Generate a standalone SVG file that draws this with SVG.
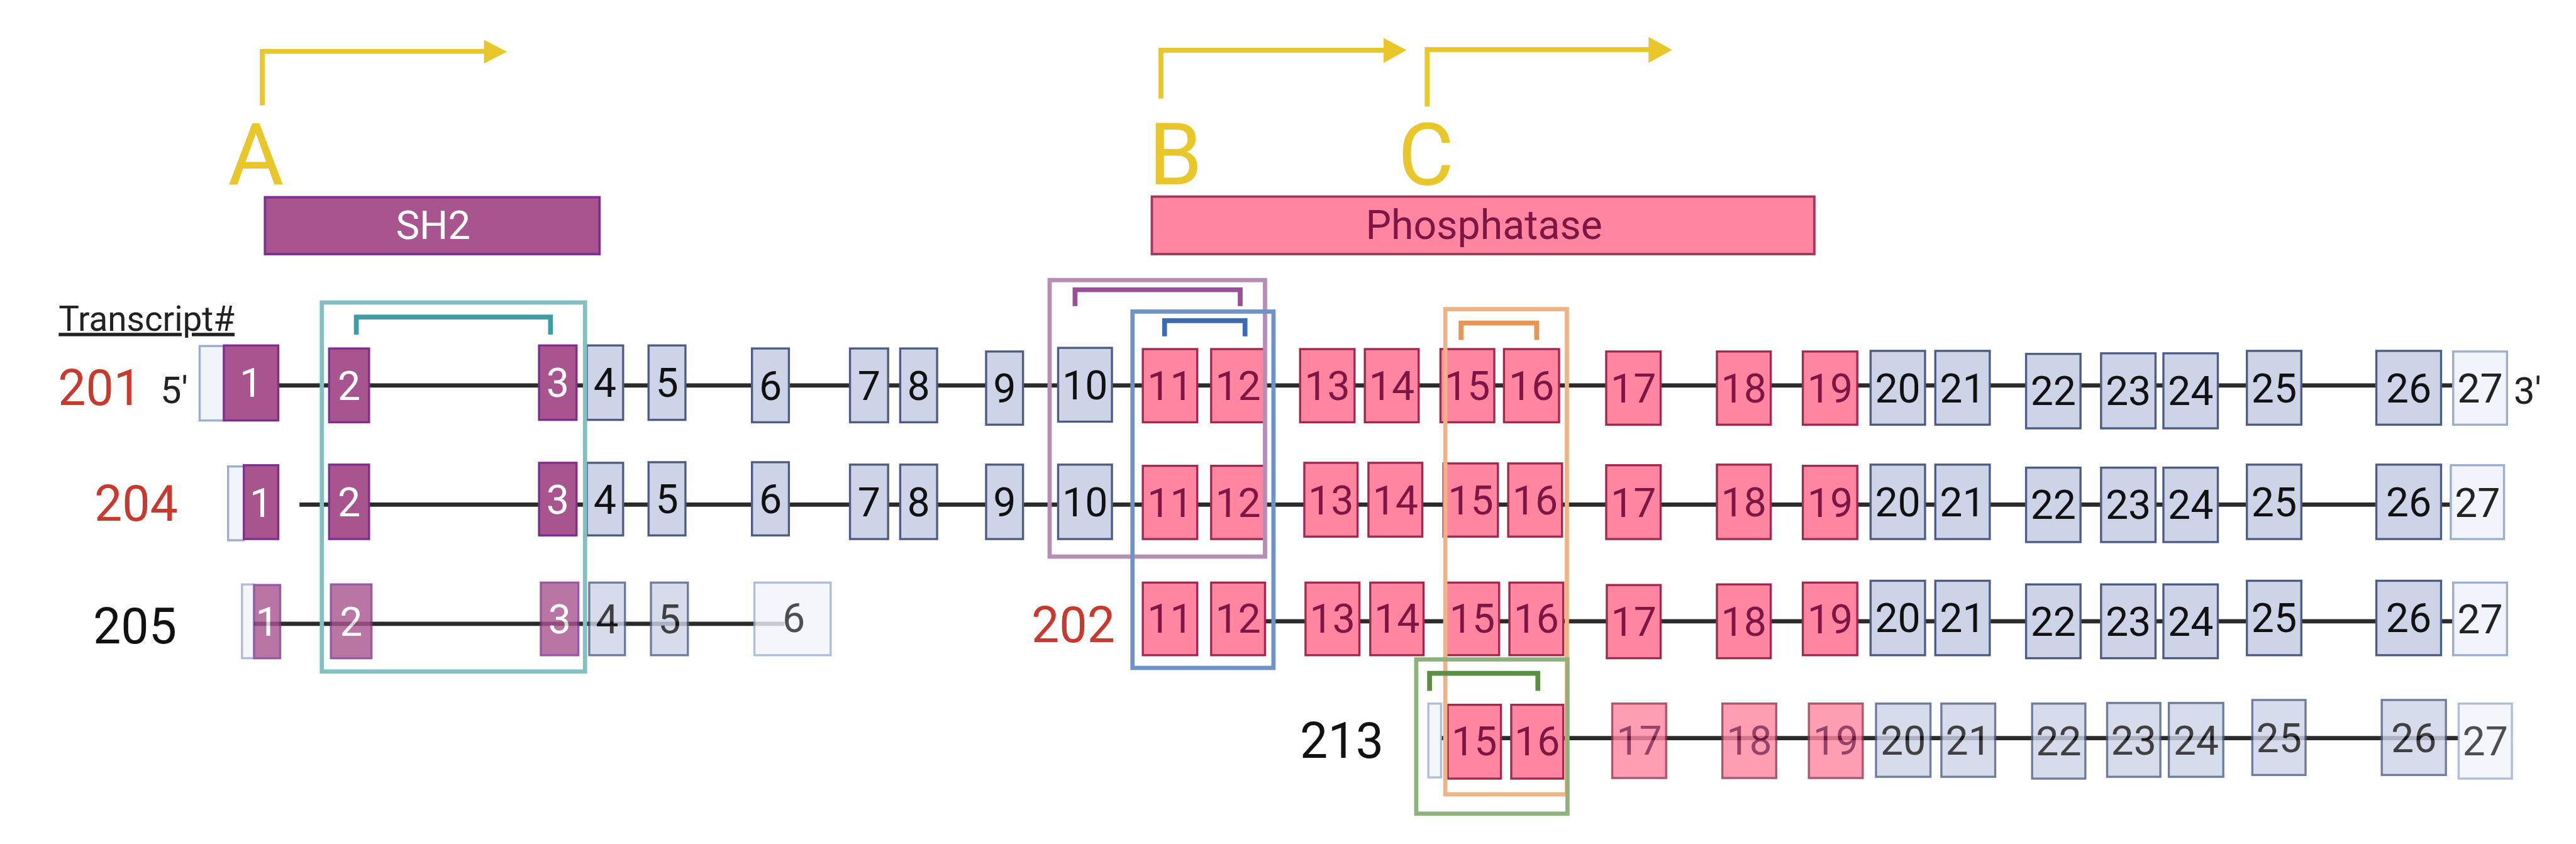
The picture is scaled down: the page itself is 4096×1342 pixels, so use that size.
<svg xmlns="http://www.w3.org/2000/svg" width="4096" height="1342" viewBox="0 0 4096 1342">
<style>
text{font-family:Roboto,"Liberation Sans",sans-serif}
.n{font-size:67px;text-anchor:middle}
.ex rect{stroke-width:3.5}
.p rect{fill:#a8558f;stroke:#7e2f8e}.p text{fill:#fff}
.k rect{fill:#ff85a1;stroke:#9e2a4d}.k text{fill:#7d1545}
.g rect{fill:#cdd4e8;stroke:#4e5c84}.g text{fill:#111}
.u rect{fill:#f1f4fb;stroke:#9dadd2}.u text{fill:#222}
.tr{opacity:0.8}
.ln{stroke:#2b2b2b;stroke-width:7;fill:none}
.fr{fill:none;stroke-width:7}
.br{fill:none;stroke-width:8}
.yl{fill:none;stroke:#e9c62a;stroke-width:8}
.lab{font-size:82px;text-anchor:middle}
.red{fill:#c93a2e}
</style>
<rect width="4096" height="1342" fill="#fff"/>
<g transform="scale(0.96195)">
<!-- promoters -->
<g id="promA"><path class="yl" d="M433.5,174V85H802"/><polygon points="800,66 838,85.5 800,105" fill="#e9c62a"/><text x="423" y="306" font-size="142" fill="#e9c62a" text-anchor="middle">A</text></g>
<g id="promB"><path class="yl" d="M1919,163V83H2289"/><polygon points="2287,63 2325,83 2287,104" fill="#e9c62a"/><text x="1943" y="305" font-size="142" fill="#e9c62a" text-anchor="middle">B</text></g>
<g id="promC"><path class="yl" d="M2359,176V82H2727"/><polygon points="2725,61 2764,82.5 2725,104" fill="#e9c62a"/><text x="2357" y="306" font-size="142" fill="#e9c62a" text-anchor="middle">C</text></g>
<!-- domains -->
<g id="dom-sh2"><rect x="438" y="326" width="553" height="94" fill="#a8558f" stroke="#7e2f8e" stroke-width="4"/><text x="716" y="395" font-size="66" fill="#fff" text-anchor="middle">SH2</text></g>
<g id="dom-phos"><rect x="1904" y="325" width="1095" height="95" fill="#ff85a1" stroke="#a23a5c" stroke-width="4"/><text x="2453" y="395" font-size="67" fill="#7d1545" text-anchor="middle">Phosphatase</text></g>
<g id="hdr"><text x="97" y="547" font-size="57" fill="#222" text-decoration="underline">Transcript#</text></g>
<!-- connectors (introns) -->
<g id="connectors">
<line class="ln" x1="459" y1="637" x2="4056" y2="637"/>
<line class="ln" x1="495" y1="834" x2="4051" y2="834"/>
<line class="ln" x1="420" y1="1031" x2="1297" y2="1031"/>
<line class="ln" x1="2091" y1="1027" x2="4064" y2="1027"/>
<line class="ln" x1="2382" y1="1220" x2="4064" y2="1220"/>
</g>
<!-- row labels -->
<g id="lbl201"><text class="lab red" x="165" y="669">201</text><text x="265" y="666" font-size="62" fill="#222">5'</text><text x="4155" y="667" font-size="62" fill="#222">3'</text></g>
<g id="lbl204"><text class="lab red" x="225" y="861">204</text></g>
<g id="lbl205"><text class="lab" x="223" y="1063" fill="#111">205</text></g>
<g id="lbl202"><text class="lab red" x="1774" y="1061">202</text></g>
<g id="lbl213"><text class="lab" x="2218" y="1253" fill="#111">213</text></g>
<!-- row 201 -->
<g id="t201">
<g id="e201-u" class="ex u"><rect x="330" y="572" width="40" height="123"/></g>
<g id="e201-1" class="ex p"><rect x="370" y="571" width="90" height="124"/><text class="n" x="415" y="656">1</text></g>
<g id="e201-2" class="ex p"><rect x="544" y="576" width="66" height="122"/><text class="n" x="577" y="661">2</text></g>
<g id="e201-3" class="ex p"><rect x="891" y="571" width="62" height="123"/><text class="n" x="922" y="656">3</text></g>
<g id="e201-4" class="ex g"><rect x="970" y="571" width="60" height="123"/><text class="n" x="1000" y="656">4</text></g>
<g id="e201-5" class="ex g"><rect x="1072" y="571" width="61" height="123"/><text class="n" x="1102.5" y="656">5</text></g>
<g id="e201-6" class="ex g"><rect x="1243" y="576" width="61" height="122"/><text class="n" x="1273.5" y="661">6</text></g>
<g id="e201-7" class="ex g"><rect x="1405" y="576" width="63" height="122"/><text class="n" x="1436.5" y="661">7</text></g>
<g id="e201-8" class="ex g"><rect x="1488" y="576" width="61" height="122"/><text class="n" x="1518.5" y="661">8</text></g>
<g id="e201-9" class="ex g"><rect x="1630" y="581" width="61" height="121"/><text class="n" x="1660.5" y="665">9</text></g>
<g id="e201-10" class="ex g"><rect x="1749" y="575" width="89" height="122"/><text class="n" x="1793.5" y="660">10</text></g>
<g id="e201-11" class="ex k"><rect x="1889" y="577" width="90" height="121"/><text class="n" x="1934" y="661">11</text></g>
<g id="e201-12" class="ex k"><rect x="2002" y="577" width="89" height="121"/><text class="n" x="2046.5" y="661">12</text></g>
<g id="e201-13" class="ex k"><rect x="2149" y="577" width="90" height="121"/><text class="n" x="2194" y="661">13</text></g>
<g id="e201-14" class="ex k"><rect x="2256" y="577" width="89" height="121"/><text class="n" x="2300.5" y="661">14</text></g>
<g id="e201-15" class="ex k"><rect x="2381" y="577" width="89" height="121"/><text class="n" x="2425.5" y="661">15</text></g>
<g id="e201-16" class="ex k"><rect x="2486" y="577" width="91" height="121"/><text class="n" x="2531.5" y="661">16</text></g>
<g id="e201-17" class="ex k"><rect x="2655" y="581" width="90" height="121"/><text class="n" x="2700" y="665">17</text></g>
<g id="e201-18" class="ex k"><rect x="2838" y="581" width="89" height="121"/><text class="n" x="2882.5" y="665">18</text></g>
<g id="e201-19" class="ex k"><rect x="2980" y="581" width="90" height="121"/><text class="n" x="3025" y="665">19</text></g>
<g id="e201-20" class="ex g"><rect x="3092" y="580" width="90" height="122"/><text class="n" x="3137" y="665">20</text></g>
<g id="e201-21" class="ex g"><rect x="3199" y="580" width="90" height="122"/><text class="n" x="3244" y="665">21</text></g>
<g id="e201-22" class="ex g"><rect x="3349" y="585" width="90" height="123"/><text class="n" x="3394" y="669">22</text></g>
<g id="e201-23" class="ex g"><rect x="3473" y="584" width="90" height="124"/><text class="n" x="3518" y="669">23</text></g>
<g id="e201-24" class="ex g"><rect x="3576" y="584" width="90" height="124"/><text class="n" x="3621" y="669">24</text></g>
<g id="e201-25" class="ex g"><rect x="3714" y="580" width="90" height="122"/><text class="n" x="3759" y="665">25</text></g>
<g id="e201-26" class="ex g"><rect x="3928" y="580" width="107" height="122"/><text class="n" x="3981.5" y="665">26</text></g>
<g id="e201-27" class="ex u"><rect x="4055" y="581" width="89" height="121"/><text class="n" x="4099.5" y="665">27</text></g>
</g>
<!-- row 204 -->
<g id="t204">
<g id="e204-u" class="ex u"><rect x="377" y="771" width="26" height="122"/></g>
<g id="e204-1" class="ex p"><rect x="403" y="769" width="57" height="122"/><text class="n" x="431.5" y="854">1</text></g>
<g id="e204-2" class="ex p"><rect x="544" y="768" width="66" height="123"/><text class="n" x="577" y="853">2</text></g>
<g id="e204-3" class="ex p"><rect x="891" y="765" width="62" height="120"/><text class="n" x="922" y="849">3</text></g>
<g id="e204-4" class="ex g"><rect x="970" y="765" width="60" height="120"/><text class="n" x="1000" y="849">4</text></g>
<g id="e204-5" class="ex g"><rect x="1072" y="764" width="61" height="121"/><text class="n" x="1102.5" y="848">5</text></g>
<g id="e204-6" class="ex g"><rect x="1243" y="764" width="61" height="121"/><text class="n" x="1273.5" y="848">6</text></g>
<g id="e204-7" class="ex g"><rect x="1405" y="768" width="63" height="123"/><text class="n" x="1436.5" y="853">7</text></g>
<g id="e204-8" class="ex g"><rect x="1488" y="768" width="61" height="123"/><text class="n" x="1518.5" y="853">8</text></g>
<g id="e204-9" class="ex g"><rect x="1630" y="768" width="61" height="123"/><text class="n" x="1660.5" y="853">9</text></g>
<g id="e204-10" class="ex g"><rect x="1749" y="768" width="89" height="123"/><text class="n" x="1793.5" y="853">10</text></g>
<g id="e204-11" class="ex k"><rect x="1889" y="770" width="90" height="121"/><text class="n" x="1934" y="854">11</text></g>
<g id="e204-12" class="ex k"><rect x="2002" y="770" width="89" height="121"/><text class="n" x="2046.5" y="854">12</text></g>
<g id="e204-13" class="ex k"><rect x="2156" y="765" width="88" height="122"/><text class="n" x="2200" y="850">13</text></g>
<g id="e204-14" class="ex k"><rect x="2262" y="765" width="89" height="122"/><text class="n" x="2306.5" y="850">14</text></g>
<g id="e204-15" class="ex k"><rect x="2386" y="766" width="90" height="121"/><text class="n" x="2431" y="850">15</text></g>
<g id="e204-16" class="ex k"><rect x="2493" y="766" width="89" height="121"/><text class="n" x="2537.5" y="850">16</text></g>
<g id="e204-17" class="ex k"><rect x="2655" y="769" width="90" height="122"/><text class="n" x="2700" y="854">17</text></g>
<g id="e204-18" class="ex k"><rect x="2838" y="768" width="89" height="123"/><text class="n" x="2882.5" y="853">18</text></g>
<g id="e204-19" class="ex k"><rect x="2980" y="770" width="90" height="121"/><text class="n" x="3025" y="854">19</text></g>
<g id="e204-20" class="ex g"><rect x="3092" y="768" width="90" height="123"/><text class="n" x="3137" y="853">20</text></g>
<g id="e204-21" class="ex g"><rect x="3199" y="768" width="90" height="123"/><text class="n" x="3244" y="853">21</text></g>
<g id="e204-22" class="ex g"><rect x="3349" y="773" width="90" height="123"/><text class="n" x="3394" y="858">22</text></g>
<g id="e204-23" class="ex g"><rect x="3473" y="773" width="90" height="123"/><text class="n" x="3518" y="858">23</text></g>
<g id="e204-24" class="ex g"><rect x="3576" y="773" width="90" height="123"/><text class="n" x="3621" y="858">24</text></g>
<g id="e204-25" class="ex g"><rect x="3714" y="768" width="90" height="123"/><text class="n" x="3759" y="853">25</text></g>
<g id="e204-26" class="ex g"><rect x="3928" y="768" width="107" height="123"/><text class="n" x="3981.5" y="853">26</text></g>
<g id="e204-27" class="ex u"><rect x="4051" y="769" width="88" height="122"/><text class="n" x="4095" y="854">27</text></g>
</g>
<!-- row 205 -->
<g id="t205" class="tr">
<g id="e205-u" class="ex u"><rect x="400" y="966" width="20" height="122"/></g>
<g id="e205-1" class="ex p"><rect x="420" y="967" width="43" height="121"/><text class="n" x="441.5" y="1051">1</text></g>
<g id="e205-2" class="ex p"><rect x="547" y="966" width="67" height="122"/><text class="n" x="580.5" y="1051">2</text></g>
<g id="e205-3" class="ex p"><rect x="894" y="963" width="62" height="120"/><text class="n" x="925" y="1047">3</text></g>
<g id="e205-4" class="ex g"><rect x="974" y="963" width="59" height="120"/><text class="n" x="1003.5" y="1047">4</text></g>
<g id="e205-5" class="ex g"><rect x="1076" y="963" width="61" height="120"/><text class="n" x="1106.5" y="1047">5</text></g>
<g id="e205-6" class="ex u"><rect x="1247" y="963" width="126" height="120"/><text class="n" x="1312" y="1045">6</text></g>
</g>
<!-- row 202 -->
<g id="t202">
<g id="e202-11" class="ex k"><rect x="1889" y="963" width="90" height="120"/><text class="n" x="1934" y="1046">11</text></g>
<g id="e202-12" class="ex k"><rect x="2002" y="963" width="89" height="120"/><text class="n" x="2046.5" y="1046">12</text></g>
<g id="e202-13" class="ex k"><rect x="2158" y="963" width="89" height="120"/><text class="n" x="2202.5" y="1046">13</text></g>
<g id="e202-14" class="ex k"><rect x="2265" y="963" width="88" height="120"/><text class="n" x="2309" y="1046">14</text></g>
<g id="e202-15" class="ex k"><rect x="2389" y="963" width="89" height="120"/><text class="n" x="2433.5" y="1046">15</text></g>
<g id="e202-16" class="ex k"><rect x="2495" y="963" width="89" height="120"/><text class="n" x="2539.5" y="1046">16</text></g>
<g id="e202-17" class="ex k"><rect x="2656" y="967" width="89" height="121"/><text class="n" x="2700.5" y="1051">17</text></g>
<g id="e202-18" class="ex k"><rect x="2838" y="966" width="89" height="122"/><text class="n" x="2882.5" y="1051">18</text></g>
<g id="e202-19" class="ex k"><rect x="2980" y="963" width="90" height="120"/><text class="n" x="3025" y="1047">19</text></g>
<g id="e202-20" class="ex g"><rect x="3092" y="960" width="90" height="123"/><text class="n" x="3137" y="1045">20</text></g>
<g id="e202-21" class="ex g"><rect x="3199" y="960" width="90" height="123"/><text class="n" x="3244" y="1045">21</text></g>
<g id="e202-22" class="ex g"><rect x="3349" y="966" width="90" height="122"/><text class="n" x="3394" y="1051">22</text></g>
<g id="e202-23" class="ex g"><rect x="3473" y="966" width="90" height="122"/><text class="n" x="3518" y="1051">23</text></g>
<g id="e202-24" class="ex g"><rect x="3576" y="966" width="90" height="122"/><text class="n" x="3621" y="1051">24</text></g>
<g id="e202-25" class="ex g"><rect x="3714" y="960" width="90" height="123"/><text class="n" x="3759" y="1045">25</text></g>
<g id="e202-26" class="ex g"><rect x="3928" y="960" width="107" height="123"/><text class="n" x="3981.5" y="1045">26</text></g>
<g id="e202-27" class="ex u"><rect x="4055" y="963" width="89" height="120"/><text class="n" x="4099.5" y="1047">27</text></g>
</g>
<!-- row 213 -->
<g id="t213">
<g id="e213-u" class="ex u tr"><rect x="2361" y="1163" width="21" height="122"/></g>
<g id="e213-15" class="ex k"><rect x="2393" y="1165" width="88" height="122"/><text class="n" x="2437" y="1248">15</text></g>
<g id="e213-16" class="ex k"><rect x="2498" y="1165" width="86" height="122"/><text class="n" x="2541" y="1248">16</text></g>
<g class="tr">
<g id="e213-17" class="ex k"><rect x="2665" y="1163" width="89" height="123"/><text class="n" x="2709.5" y="1247">17</text></g>
<g id="e213-18" class="ex k"><rect x="2847" y="1163" width="89" height="123"/><text class="n" x="2891.5" y="1247">18</text></g>
<g id="e213-19" class="ex k"><rect x="2990" y="1163" width="89" height="123"/><text class="n" x="3034.5" y="1247">19</text></g>
<g id="e213-20" class="ex g"><rect x="3101" y="1163" width="90" height="121"/><text class="n" x="3146" y="1247">20</text></g>
<g id="e213-21" class="ex g"><rect x="3209" y="1163" width="89" height="121"/><text class="n" x="3253.5" y="1247">21</text></g>
<g id="e213-22" class="ex g"><rect x="3359" y="1163" width="88" height="124"/><text class="n" x="3403" y="1249">22</text></g>
<g id="e213-23" class="ex g"><rect x="3483" y="1162" width="88" height="122"/><text class="n" x="3527" y="1247">23</text></g>
<g id="e213-24" class="ex g"><rect x="3585" y="1162" width="90" height="122"/><text class="n" x="3630" y="1247">24</text></g>
<g id="e213-25" class="ex g"><rect x="3723" y="1157" width="88" height="124"/><text class="n" x="3767" y="1243">25</text></g>
<g id="e213-26" class="ex g"><rect x="3937" y="1157" width="106" height="124"/><text class="n" x="3990" y="1243">26</text></g>
<g id="e213-27" class="ex u"><rect x="4064" y="1163" width="88" height="124"/><text class="n" x="4108" y="1249">27</text></g>
</g>
</g>
<!-- highlight frames and brackets -->
<g id="hl-teal"><rect class="fr" x="532" y="500" width="435" height="610" stroke="#82c0c2"/><path class="br" d="M589,553V524H910V553" stroke="#3e9ea3"/></g>
<g id="hl-lav"><rect class="fr" x="1735" y="463" width="356" height="457" stroke="#b88db5"/><path class="br" d="M1777,506V479H2050V506" stroke="#9a4f97"/></g>
<g id="hl-blue"><rect class="fr" x="1872" y="515" width="233" height="589" stroke="#6d93c8"/><path class="br" d="M1925,556V530H2058V556" stroke="#3b6bb3"/></g>
<g id="hl-orange"><rect class="fr" x="2389" y="511" width="201" height="802" stroke="#f0b386"/><path class="br" d="M2415,562V534H2540V562" stroke="#e89457"/></g>
<g id="hl-green"><rect class="fr" x="2341" y="1090" width="250" height="255" stroke="#8fb27d"/><path class="br" d="M2363,1142V1113H2542V1142" stroke="#5b8f46"/></g>
</g>
</svg>
